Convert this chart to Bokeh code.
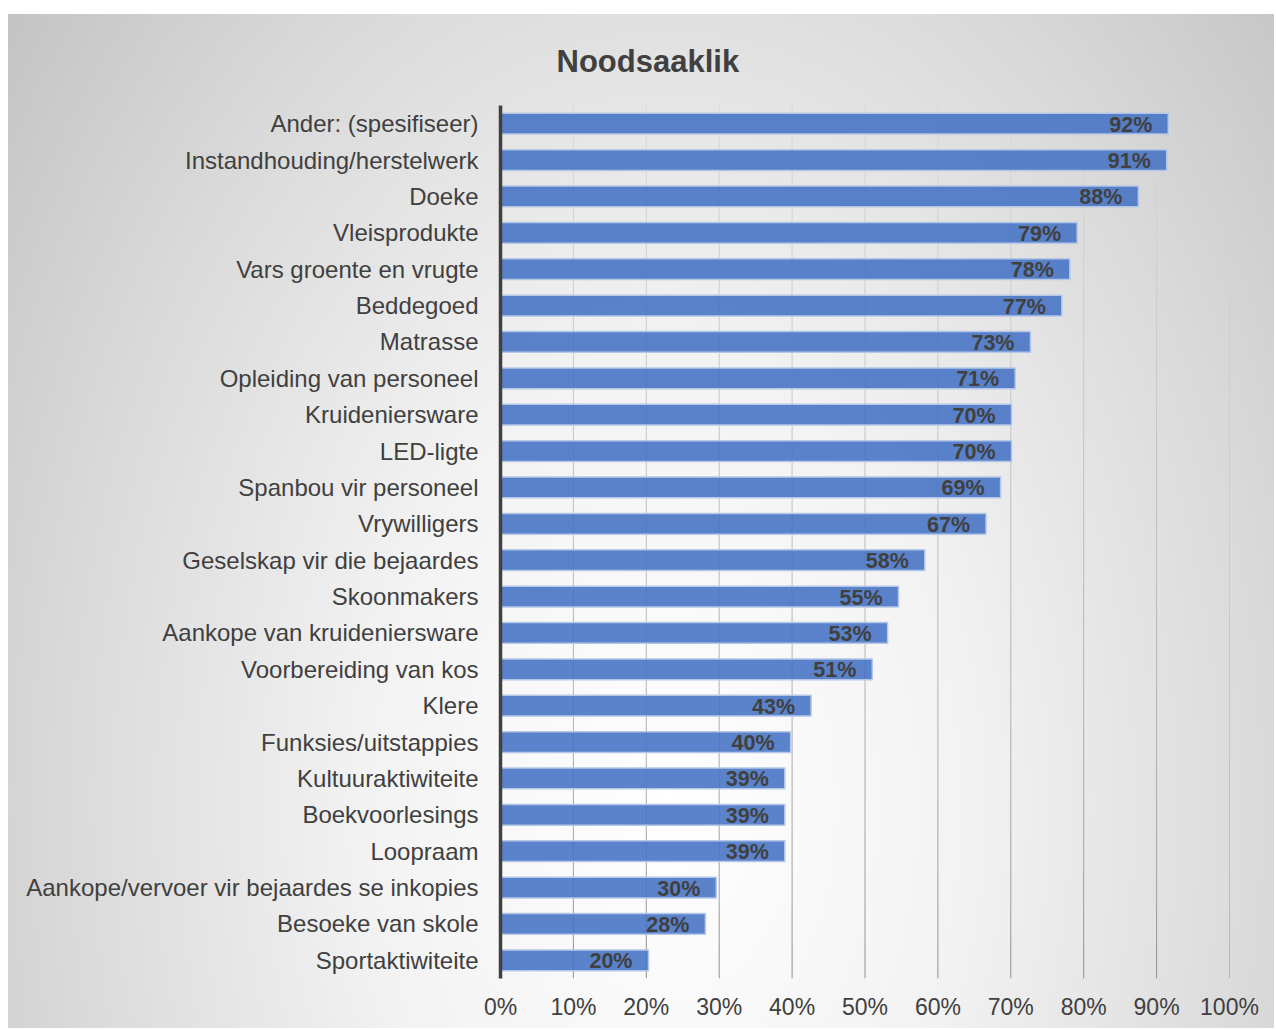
from bokeh.plotting import figure
from bokeh.models import Range1d, FixedTicker, NumeralTickFormatter, ColumnDataSource
from bokeh.core.properties import value
from bokeh.embed import file_html
from bokeh.resources import INLINE

categories = [
    "Ander: (spesifiseer)", "Instandhouding/herstelwerk", "Doeke", "Vleisprodukte",
    "Vars groente en vrugte", "Beddegoed", "Matrasse", "Opleiding van personeel",
    "Kruideniersware", "LED-ligte", "Spanbou vir personeel", "Vrywilligers",
    "Geselskap vir die bejaardes", "Skoonmakers", "Aankope van kruideniersware",
    "Voorbereiding van kos", "Klere", "Funksies/uitstappies", "Kultuuraktiwiteite",
    "Boekvoorlesings", "Loopraam", "Aankope/vervoer vir bejaardes se inkopies",
    "Besoeke van skole", "Sportaktiwiteite",
]
values = [0.916, 0.914, 0.875, 0.791, 0.781, 0.770, 0.727, 0.706, 0.701, 0.701,
          0.686, 0.666, 0.582, 0.546, 0.531, 0.510, 0.426, 0.398, 0.390, 0.390,
          0.390, 0.296, 0.281, 0.203]
labels = [f"{int(v * 100 + 0.5)}%" for v in values]
x_ticks = [0.0, 0.1, 0.2, 0.3, 0.4, 0.5, 0.6, 0.7, 0.8, 0.9, 1.0]
title_text = "Noodsaaklik"

FONT = "Liberation Sans"
TXT = "#404040"

n = len(categories)
y_pos = [n - 0.5 - i for i in range(n)]   # first category at the top

p = figure(
    y_range=Range1d(0, n),
    x_range=Range1d(0, 1.0),
    width=1266, height=1014,
    output_backend="svg", toolbar_location=None,
    min_border_left=492, min_border_right=45,
    min_border_top=91, min_border_bottom=50,
)
p.margin = (14, 0, 0, 8)
p.background_fill_alpha = 0
p.border_fill_alpha = 0
p.outline_line_color = None
p.styles = {
    "background": "radial-gradient(ellipse 760px 1150px at 52% 78%, #ffffff 0%, #f2f2f2 40%, #d9d9d9 80%, #c4c4c4 110%)",
}

# vertical gridlines (gradient from dark at bottom to light at top)
gx, gy0, gy1, gc = [], [], [], []
for i in range(n):
    t = (i + 0.5) / n
    g = int(138 + 78 * t ** 0.6)
    col = "#%02x%02x%02x" % (g, g, g)
    for xt in x_ticks:
        gx.append(xt); gy0.append(i); gy1.append(i + 1); gc.append(col)
p.segment(x0=gx, y0=gy0, x1=gx, y1=gy1, line_color=gc, line_width=1)
p.xgrid.visible = False
p.ygrid.visible = False

src = ColumnDataSource(dict(y=y_pos, cat=categories, val=values, lab=labels))
p.hbar(y="y", left=0, right="val", height=0.57, source=src,
       fill_color="#4472c4", fill_alpha=0.88, line_color="#b4c7e7", line_width=1.5)
p.text(x="val", y="y", text="lab", source=src, text_align="right", text_baseline="middle",
       x_offset=-16, y_offset=1, text_font=value(FONT), text_font_style="bold",
       text_font_size="21.5px", text_color=TXT)

# axes
p.yaxis.ticker = FixedTicker(ticks=y_pos)
p.yaxis.major_label_overrides = {y: c for y, c in zip(y_pos, categories)}
p.yaxis.axis_line_color = TXT
p.yaxis.axis_line_width = 3.5
p.yaxis.major_tick_line_color = None
p.yaxis.minor_tick_line_color = None
p.yaxis.major_label_text_font = FONT
p.yaxis.major_label_text_font_size = "24px"
p.yaxis.major_label_text_color = TXT
p.yaxis.major_label_standoff = 16

p.xaxis.ticker = FixedTicker(ticks=x_ticks)
p.xaxis.formatter = NumeralTickFormatter(format="0%")
p.xaxis.axis_line_color = None
p.xaxis.major_tick_line_color = None
p.xaxis.minor_tick_line_color = None
p.xaxis.major_label_text_font = FONT
p.xaxis.major_label_text_font_size = "23px"
p.xaxis.major_label_text_color = TXT
p.xaxis.major_label_standoff = 9

p.title.text = title_text
p.title.text_font = FONT
p.title.text_font_size = "31px"
p.title.text_font_style = "bold"
p.title.text_color = TXT
p.title.align = "left"
p.title.offset = 56
p.title.standoff = 53

open("out.html", "w").write(file_html(p, INLINE, title=title_text))
